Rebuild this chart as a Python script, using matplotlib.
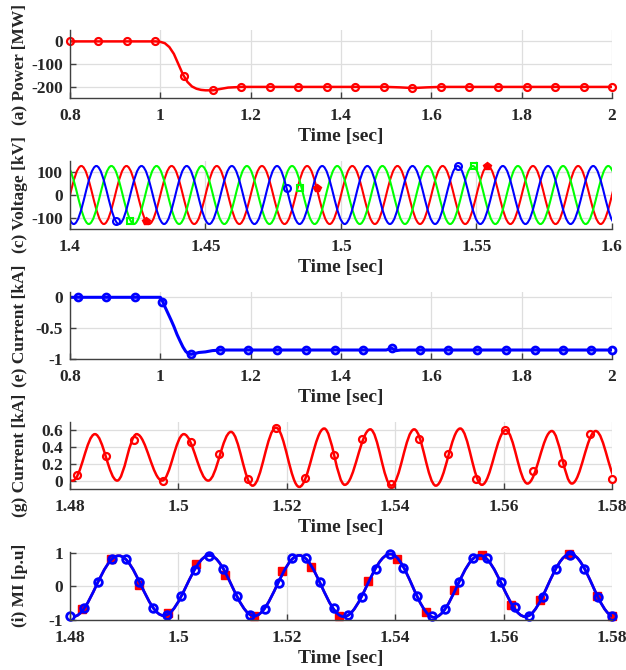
import matplotlib
matplotlib.use("Agg")
import matplotlib.pyplot as plt
from matplotlib.path import Path
from matplotlib.patches import PathPatch
from matplotlib.ticker import FormatStrFormatter

# (a) active power [MW], 0.8 - 2 s
power_t = [0.8, 0.99, 1.0, 1.01, 1.02, 1.03, 1.04, 1.05, 1.06, 1.07, 1.08, 1.09, 1.10,
           1.117, 1.13, 1.15, 1.18, 1.5, 1.53, 1.559, 1.59, 1.62, 2.0]
power = [0, 0, -2, -8, -25, -55, -100, -145, -178, -198, -208, -213, -215,
         -215, -210, -203, -200, -200, -202, -205, -202, -200, -200]
power_mk_t = [0.800, 0.863, 0.926, 0.989, 1.053, 1.116, 1.179, 1.242, 1.305, 1.368,
              1.432, 1.495, 1.558, 1.621, 1.684, 1.747, 1.811, 1.874, 1.937, 2.000]
power_mk = [0, 0, 0, 0, -150, -215, -200, -200, -200, -200,
            -200, -200, -205, -200, -200, -200, -200, -200, -200, -200]

# (c) three-phase voltage [kV], extrema of each phase, 1.4 - 1.6 s
v_peak = 128
va_ext_t = [1.39583, 1.40417, 1.4125, 1.42083, 1.42917, 1.4375, 1.44583, 1.45417, 1.4625,
            1.47083, 1.47917, 1.4875, 1.49583, 1.50417, 1.5125, 1.52083, 1.52917, 1.5375,
            1.54583, 1.55417, 1.5625, 1.57083, 1.57917, 1.5875, 1.59583, 1.60417]
va_ext = [-v_peak, v_peak] * 13
vb_ext_t = [1.39306, 1.40139, 1.40972, 1.41806, 1.42639, 1.43472, 1.44306, 1.45139, 1.45972,
            1.46806, 1.47639, 1.48472, 1.49306, 1.50139, 1.50972, 1.51806, 1.52639, 1.53472,
            1.54306, 1.55139, 1.55972, 1.56806, 1.57639, 1.58472, 1.59306, 1.60139]
vb_ext = [v_peak, -v_peak] * 13
vc_ext_t = [1.39861, 1.40694, 1.41528, 1.42361, 1.43194, 1.44028, 1.44861, 1.45694, 1.46528,
            1.47361, 1.48194, 1.49028, 1.49861, 1.50694, 1.51528, 1.52361, 1.53194, 1.54028,
            1.54861, 1.55694, 1.56528, 1.57361, 1.58194, 1.59028, 1.59861, 1.60694]
vc_ext = [v_peak, -v_peak] * 13
va_mk_t, va_mk = [1.428, 1.491, 1.554], [-115, 30, 128]
vb_mk_t, vb_mk = [1.417, 1.480, 1.543], [-115, 30, 128]
vc_mk_t, vc_mk = [1.422, 1.485, 1.549], [-115, 30, 128]

# (e) current [kA], 0.8 - 2 s
cur_t = [0.8, 1.0, 1.004, 1.01, 1.017, 1.024, 1.03, 1.037, 1.044, 1.05, 1.056, 1.062,
         1.068, 1.075, 1.085, 1.10, 1.115, 1.133, 1.50, 1.512, 1.522, 1.532, 1.545, 2.0]
cur = [0, 0, -0.05, -0.15, -0.26, -0.37, -0.47, -0.6, -0.71, -0.8, -0.87, -0.91,
       -0.92, -0.91, -0.89, -0.88, -0.86, -0.85, -0.85, -0.82, -0.86, -0.85, -0.85, -0.85]
cur_mk_t = [0.818, 0.880, 0.944, 1.004, 1.069, 1.133, 1.195, 1.259, 1.322, 1.386,
            1.449, 1.512, 1.574, 1.638, 1.702, 1.765, 1.829, 1.891, 1.954, 2.0]
cur_mk = [0, 0, 0, -0.07, -0.92, -0.85, -0.85, -0.85, -0.85, -0.85,
          -0.85, -0.82, -0.85, -0.85, -0.85, -0.85, -0.85, -0.85, -0.85, -0.85]

# (g) current [kA], extrema, 1.48 - 1.58 s
ig_ext_t = [1.4790, 1.4805, 1.4846, 1.4887, 1.4923, 1.4970, 1.5010, 1.5055, 1.5097, 1.5137,
            1.5180, 1.5223, 1.5269, 1.5307, 1.5354, 1.5393, 1.5435, 1.5475, 1.5520, 1.5560,
            1.5604, 1.5644, 1.5689, 1.5726, 1.5770, 1.5812]
ig_ext = [0, 0, 0.553, 0, 0.553, 0, 0.553, 0, 0.58, -0.06,
          0.63, -0.075, 0.62, -0.05, 0.61, -0.06, 0.61, -0.06, 0.62, -0.05,
          0.60, -0.035, 0.59, -0.035, 0.59, -0.02]
ig_mk_t = [1.4813, 1.4866, 1.4918, 1.4971, 1.5024, 1.5075, 1.5128, 1.5180, 1.5234, 1.5287,
           1.5339, 1.5392, 1.5444, 1.5497, 1.5549, 1.5602, 1.5655, 1.5708, 1.5759, 1.5800]
ig_mk = [0.07, 0.29, 0.48, 0.0, 0.46, 0.32, 0.02, 0.62, 0.03, 0.31,
         0.50, -0.04, 0.50, 0.32, 0.02, 0.60, 0.11, 0.21, 0.55, 0.02]

# (i) modulation index [p.u], extrema, 1.48 - 1.58 s
mi_ext_t = [1.4806, 1.4890, 1.4973, 1.5057, 1.5140, 1.5223, 1.5305, 1.5391,
            1.5472, 1.5556, 1.5640, 1.5723, 1.5805]
mi_ext = [-0.9, 0.91, -0.87, 0.92, -0.88, 0.92, -0.9, 0.96, -0.92, 0.92, -0.9, 0.96, -0.9]
mi_mk_t = [1.4800, 1.4826, 1.4851, 1.4877, 1.4903, 1.4928, 1.4954, 1.4979, 1.5005, 1.5031,
           1.5056, 1.5082, 1.5108, 1.5133, 1.5159, 1.5185, 1.5210, 1.5236, 1.5262, 1.5287,
           1.5313, 1.5338, 1.5364, 1.5390, 1.5415, 1.5441, 1.5467, 1.5492, 1.5518, 1.5544,
           1.5569, 1.5595, 1.5621, 1.5646, 1.5672, 1.5697, 1.5723, 1.5749, 1.5774, 1.5800]
mi_mk = [-0.87, -0.65, 0.12, 0.81, 0.80, 0.12, -0.65, -0.84, -0.30, 0.50,
         0.90, 0.53, -0.29, -0.84, -0.67, 0.10, 0.83, 0.83, 0.13, -0.65,
         -0.86, -0.31, 0.51, 0.95, 0.55, -0.30, -0.87, -0.68, 0.13, 0.83,
         0.83, 0.13, -0.61, -0.88, -0.31, 0.53, 0.94, 0.53, -0.31, -0.87]
mi_ref_mk_t = [1.4822, 1.4875, 1.4928, 1.4981, 1.5033, 1.5086, 1.5139, 1.5192, 1.5245, 1.5297,
               1.5350, 1.5403, 1.5456, 1.5509, 1.5561, 1.5614, 1.5667, 1.5720, 1.5773, 1.5800]
mi_ref_mk = [-0.68, 0.80, 0.05, -0.80, 0.65, 0.35, -0.89, 0.45, 0.57, -0.88,
             0.17, 0.82, -0.76, -0.12, 0.92, -0.55, -0.40, 0.96, -0.30, -0.89]

plt.rcParams['font.family'] = ['Liberation Serif', 'DejaVu Serif']
plt.rcParams['font.weight'] = 'bold'
plt.rcParams['axes.labelweight'] = 'bold'
plt.rcParams['axes.unicode_minus'] = False


def wave(ax, ts, vs, color, lw=1.8):
    # smooth curve through successive extrema (horizontal tangent at each one)
    k = 0.3634
    verts = [(ts[0], vs[0])]
    codes = [Path.MOVETO]
    for i in range(len(ts) - 1):
        d = ts[i + 1] - ts[i]
        verts += [(ts[i] + k * d, vs[i]), (ts[i + 1] - k * d, vs[i + 1]), (ts[i + 1], vs[i + 1])]
        codes += [Path.CURVE4] * 3
    ax.add_patch(PathPatch(Path(verts, codes), fill=False, edgecolor=color, lw=lw, zorder=2))


def style(ax, xlim, xticks, ylim, yticks, ylabel):
    ax.set_xlim(xlim)
    ax.set_ylim(ylim)
    ax.set_xticks(xticks)
    ax.set_yticks(yticks)
    ax.xaxis.set_major_formatter(FormatStrFormatter('%g'))
    ax.yaxis.set_major_formatter(FormatStrFormatter('%g'))
    ax.grid(True, color='#dedede', lw=0.9)
    ax.set_axisbelow(True)
    for s in ['top', 'right']:
        ax.spines[s].set_visible(False)
    for s in ['left', 'bottom']:
        ax.spines[s].set_color('#404040')
        ax.spines[s].set_linewidth(1.0)
    ax.tick_params(direction='in', length=4, width=1, colors='#404040',
                   labelcolor='#262626', labelsize=12.5)
    ax.tick_params(axis='x', pad=7)
    ax.tick_params(axis='y', pad=5)
    ax.set_xlabel('Time [sec]', fontsize=14, color='#262626', labelpad=3)
    ax.set_ylabel(ylabel, fontsize=12.5, color='#262626')
    ax.yaxis.set_label_coords(-0.078, 0.5)


fig = plt.figure(figsize=(6.26, 6.70), dpi=100)
W = 542 / 626
ax1 = fig.add_axes([70 / 626, 0.8533, W, 0.1019])
ax2 = fig.add_axes([70 / 626, 0.6582, W, 0.1015])
ax3 = fig.add_axes([70 / 626, 0.4637, W, 0.1009])
ax4 = fig.add_axes([70 / 626, 0.2701, W, 0.1004])
ax5 = fig.add_axes([70 / 626, 0.0746, W, 0.1020])

# (a)
ax1.plot(power_t, power, color='r', lw=1.8)
ax1.plot(power_mk_t, power_mk, 'o', color='r', mfc='none', ms=5, mew=1.6, clip_on=False)
style(ax1, (0.8, 2), [0.8, 1, 1.2, 1.4, 1.6, 1.8, 2], (-250, 50), [-200, -100, 0],
      '(a) Power [MW]')

# (c)
wave(ax2, va_ext_t, va_ext, 'r', 1.5)
wave(ax2, vc_ext_t, vc_ext, '#00ff00', 1.5)
wave(ax2, vb_ext_t, vb_ext, 'b', 1.5)
ax2.plot(vb_mk_t, vb_mk, 'o', color='b', mfc='none', ms=5, mew=1.5, clip_on=False)
ax2.plot(vc_mk_t, vc_mk, 's', color='#00ff00', mfc='none', ms=5, mew=1.5, clip_on=False)
ax2.plot(va_mk_t, va_mk, 'p', color='r', ms=6, mew=1, clip_on=False)
style(ax2, (1.4, 1.6), [1.4, 1.45, 1.5, 1.55, 1.6], (-150, 150), [-100, 0, 100],
      '(c) Voltage [kV]')

# (e)
ax3.plot(cur_t, cur, color='b', lw=2.2)
ax3.plot(cur_mk_t, cur_mk, 'o', color='b', mfc='none', ms=5, mew=2, clip_on=False)
style(ax3, (0.8, 2), [0.8, 1, 1.2, 1.4, 1.6, 1.8, 2], (-1, 0.09), [-1, -0.5, 0],
      '(e) Current [kA]')

# (g)
wave(ax4, ig_ext_t, ig_ext, 'r', 1.8)
ax4.plot(ig_mk_t, ig_mk, 'o', color='r', mfc='none', ms=5, mew=1.6, clip_on=False)
style(ax4, (1.48, 1.58), [1.48, 1.5, 1.52, 1.54, 1.56, 1.58], (-0.1, 0.7),
      [0, 0.2, 0.4, 0.6], '(g) Current [kA]')

# (i)
wave(ax5, mi_ext_t, mi_ext, 'r', 1.8)
ax5.plot(mi_ref_mk_t, mi_ref_mk, 's', color='r', ms=5.5, clip_on=False)
wave(ax5, mi_ext_t, mi_ext, 'b', 2.0)
ax5.plot(mi_mk_t, mi_mk, 'o', color='b', mfc='none', ms=5.5, mew=2, clip_on=False)
style(ax5, (1.48, 1.58), [1.48, 1.5, 1.52, 1.54, 1.56, 1.58], (-1, 1.03), [-1, 0, 1],
      '(i) MI [p.u]')

fig.savefig('out.png', dpi=100)
